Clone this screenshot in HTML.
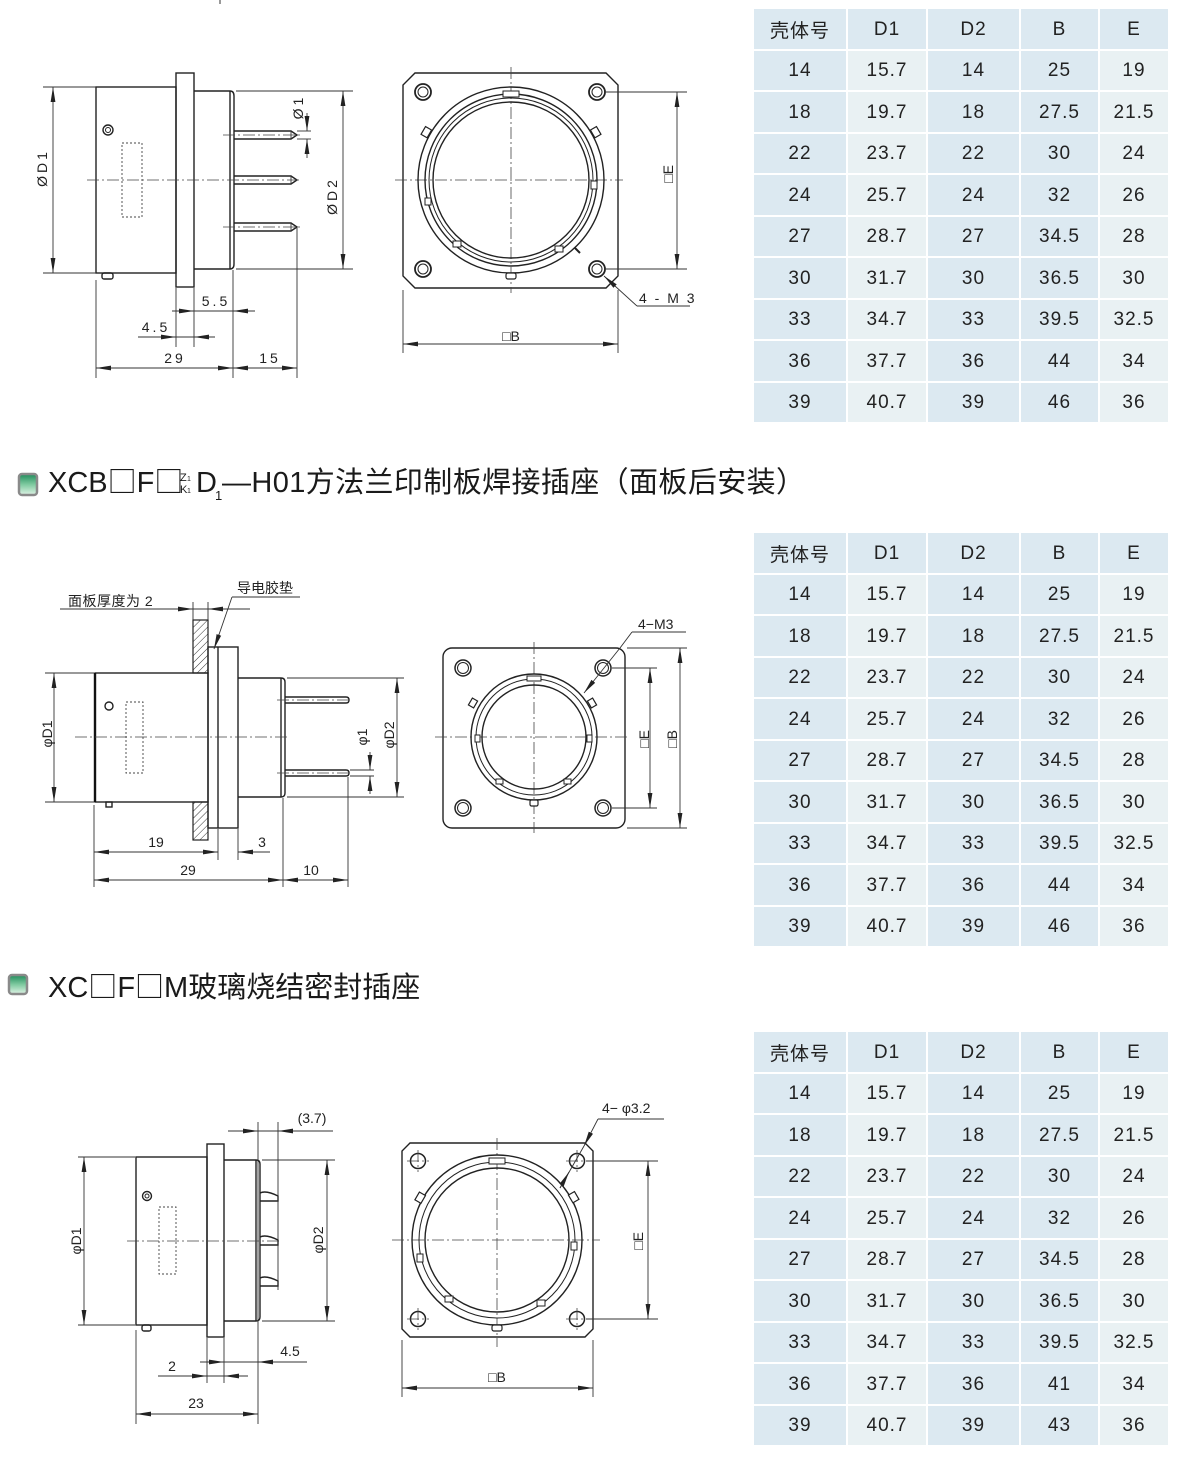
<!DOCTYPE html>
<html><head><meta charset="utf-8"><style>
html,body{margin:0;padding:0;background:#fff;}
body{width:1200px;height:1472px;position:relative;overflow:hidden;}
.tb{position:absolute;left:754px;display:grid;grid-template-columns:92px 78px 91px 77px 68px;grid-auto-rows:39.5px;gap:2px;font:19px "Liberation Sans","Noto Sans CJK SC",sans-serif;color:#222;letter-spacing:1px;}
.tb div{display:flex;align-items:center;justify-content:center;background:#dce9f1;padding-top:2px;box-sizing:border-box;}
.tb div.l{background:#e9f1f3;}
svg{position:absolute;left:0;top:0;}
.t{font-family:"Liberation Sans","Noto Sans CJK SC",sans-serif;font-size:14px;fill:#222;}
.s{fill:none;stroke:#222;stroke-width:1.4;}
.d{fill:none;stroke:#333;stroke-width:0.9;}
.c{fill:none;stroke:#444;stroke-width:0.8;stroke-dasharray:12 3 2 3;}
.dot{fill:none;stroke:#444;stroke-width:0.9;stroke-dasharray:2 2;}
.h{font-family:"Liberation Sans","Noto Sans CJK SC",sans-serif;fill:#1a1a1a;}
.cj{font-family:"Noto Sans CJK SC",sans-serif;}
</style></head><body>

<svg width="1200" height="1472" viewBox="0 0 1200 1472" xmlns="http://www.w3.org/2000/svg">
<defs>
<marker id="a" viewBox="-15 -3 15 6" refX="0" refY="0" markerWidth="15" markerHeight="6" markerUnits="userSpaceOnUse" orient="auto-start-reverse"><path d="M0,0L-15,-2.4L-15,2.4Z" fill="#222"/></marker>
<pattern id="hp" patternUnits="userSpaceOnUse" width="5" height="5" patternTransform="rotate(45)"><line x1="0" y1="0" x2="0" y2="5" stroke="#333" stroke-width="1"/></pattern>
<linearGradient id="ig" x1="0" y1="0" x2="0" y2="1"><stop offset="0" stop-color="#1f8a5a"/><stop offset="0.5" stop-color="#7fcaa0"/><stop offset="1" stop-color="#dff3e6"/></linearGradient>
</defs>

<line x1="220" y1="0" x2="220" y2="4" stroke="#333" stroke-width="1"/>

<!-- ============ DRAWING 1 SIDE ============ -->
<rect class="s" x="96" y="87" width="80" height="186"/>
<rect class="s" x="176" y="73" width="18" height="214"/>
<path class="s" d="M194,91 H230 Q234,91 234,96 V264 Q234,269 230,269 H194"/>
<line class="s" x1="230" y1="91" x2="230" y2="269"/>
<path class="s" d="M234,131 H291 L297,135 L291,139 H234"/><line class="d" x1="291" y1="131" x2="291" y2="139"/>
<path class="s" d="M234,176 H291 L297,180 L291,184 H234"/><line class="d" x1="291" y1="176" x2="291" y2="184"/>
<path class="s" d="M234,223 H291 L297,227 L291,231 H234"/><line class="d" x1="291" y1="223" x2="291" y2="231"/>
<circle class="s" cx="108" cy="130" r="5"/><circle cx="108" cy="130" r="2.5" fill="none" stroke="#222" stroke-width="1"/>
<rect class="dot" x="122" y="143" width="20" height="74"/>
<rect class="s" x="102" y="273" width="11" height="6" rx="2"/>
<line class="c" x1="87" y1="180" x2="300" y2="180"/>
<line class="c" x1="223" y1="135" x2="302" y2="135"/>
<line class="c" x1="223" y1="227" x2="302" y2="227"/>
<!-- dims -->
<line class="d" x1="43" y1="87" x2="96" y2="87"/><line class="d" x1="43" y1="273" x2="96" y2="273"/>
<line class="d" x1="53" y1="87" x2="53" y2="273" marker-start="url(#a)" marker-end="url(#a)"/>
<text class="t" font-size="15" letter-spacing="3" text-anchor="middle" dominant-baseline="central" transform="translate(42,168) rotate(-90)">ØD1</text>
<line class="d" x1="236" y1="91" x2="353" y2="91"/><line class="d" x1="236" y1="269" x2="353" y2="269"/>
<line class="d" x1="343" y1="91" x2="343" y2="269" marker-start="url(#a)" marker-end="url(#a)"/>
<text class="t" font-size="15" letter-spacing="3" text-anchor="middle" dominant-baseline="central" transform="translate(332,196) rotate(-90)">ØD2</text>
<line class="d" x1="297" y1="131" x2="311" y2="131"/><line class="d" x1="297" y1="139" x2="311" y2="139"/>
<line class="d" x1="307" y1="113" x2="307" y2="131" marker-end="url(#a)"/>
<line class="d" x1="307" y1="158" x2="307" y2="139" marker-end="url(#a)"/>
<text class="t" font-size="15" letter-spacing="3" text-anchor="middle" dominant-baseline="central" transform="translate(298,107) rotate(-90)">Ø1</text>
<line class="d" x1="96" y1="280" x2="96" y2="378"/>
<line class="d" x1="176" y1="288" x2="176" y2="347"/>
<line class="d" x1="194" y1="288" x2="194" y2="347"/>
<line class="d" x1="233" y1="270" x2="233" y2="378"/>
<line class="d" x1="297" y1="228" x2="297" y2="378"/>
<line class="d" x1="172" y1="311" x2="255" y2="311"/>
<line class="d" x1="178" y1="311" x2="194" y2="311" marker-end="url(#a)"/>
<line class="d" x1="249" y1="311" x2="233" y2="311" marker-end="url(#a)"/>
<text class="t" letter-spacing="3" x="216" y="306" text-anchor="middle">5.5</text>
<line class="d" x1="138" y1="337" x2="215" y2="337"/>
<line class="d" x1="160" y1="337" x2="176" y2="337" marker-end="url(#a)"/>
<line class="d" x1="210" y1="337" x2="194" y2="337" marker-end="url(#a)"/>
<text class="t" letter-spacing="3" x="156" y="332" text-anchor="middle">4.5</text>
<line class="d" x1="96" y1="368" x2="233" y2="368" marker-start="url(#a)" marker-end="url(#a)"/>
<line class="d" x1="233" y1="368" x2="297" y2="368" marker-start="url(#a)" marker-end="url(#a)"/>
<text class="t" letter-spacing="3" x="175" y="363" text-anchor="middle">29</text>
<text class="t" letter-spacing="3" x="270" y="363" text-anchor="middle">15</text>

<!-- ============ DRAWING 1 FRONT ============ -->
<path class="s" d="M415,73 H606 L618,85 V276 L606,288 H415 L403,276 V85 Z"/>
<line class="c" x1="395" y1="180" x2="623" y2="180"/>
<line class="c" x1="511" y1="67" x2="511" y2="293"/>
<g transform="translate(511,180)">
<circle class="s" r="93"/><circle class="s" r="86"/><circle fill="none" stroke="#222" stroke-width="1" r="82"/><circle class="s" r="78"/>
<rect x="-8" y="-89" width="16" height="6" fill="#fff" stroke="#222" stroke-width="1"/>
<rect x="80" y="1" width="6" height="8" fill="#fff" stroke="#222" stroke-width="1"/>
<rect x="-86" y="18" width="6" height="7" fill="#fff" stroke="#222" stroke-width="1"/>
<rect x="-58" y="61" width="8" height="6" fill="#fff" stroke="#222" stroke-width="1"/>
<rect x="44" y="66" width="8" height="6" fill="#fff" stroke="#222" stroke-width="1"/>
<rect x="-5" y="93" width="10" height="6" rx="2" fill="#fff" stroke="#222" stroke-width="1.2"/>
<rect x="-4" y="-4" width="7" height="9" fill="#fff" stroke="#222" stroke-width="1.2" transform="translate(-84,-48) rotate(30)"/>
<rect x="-3" y="-4" width="7" height="9" fill="#fff" stroke="#222" stroke-width="1.2" transform="translate(84,-48) rotate(-30)"/>
</g>
<g fill="none" stroke="#222">
<circle cx="423" cy="92" r="8" stroke-width="1.8"/><circle cx="423" cy="92" r="5" stroke-width="1"/>
<circle cx="597" cy="92" r="8" stroke-width="1.8"/><circle cx="597" cy="92" r="5" stroke-width="1"/>
<circle cx="423" cy="269" r="8" stroke-width="1.8"/><circle cx="423" cy="269" r="5" stroke-width="1"/>
<circle cx="597" cy="269" r="8" stroke-width="1.8"/><circle cx="597" cy="269" r="5" stroke-width="1"/>
</g>
<line class="d" x1="605" y1="92" x2="687" y2="92"/><line class="d" x1="605" y1="269" x2="687" y2="269"/>
<line class="d" x1="677" y1="92" x2="677" y2="269" marker-start="url(#a)" marker-end="url(#a)"/>
<text class="t" font-size="15" text-anchor="middle" dominant-baseline="central" transform="translate(668,174) rotate(-90)">□E</text>
<line class="d" x1="403" y1="290" x2="403" y2="353"/><line class="d" x1="618" y1="290" x2="618" y2="353"/>
<line class="d" x1="403" y1="344" x2="618" y2="344" marker-start="url(#a)" marker-end="url(#a)"/>
<text class="t" font-size="15" x="511" y="341" text-anchor="middle">□B</text>
<line x1="575" y1="248" x2="580" y2="253" stroke="#222" stroke-width="2"/>
<line class="d" x1="637" y1="306" x2="604" y2="276" marker-end="url(#a)"/>
<line class="d" x1="637" y1="306" x2="690" y2="306"/>
<text class="t" letter-spacing="2" x="639" y="303">4 - M 3</text>

<!-- ============ HEADING 1 ============ -->
<rect x="19" y="474" width="18" height="21" rx="3" fill="url(#ig)" stroke="#8a8a8a" stroke-width="2.5"/>
<text class="h" font-size="29" x="48" y="492">XCB<tspan class="cj">□</tspan>F<tspan class="cj">□</tspan></text>
<text class="h" font-size="11" x="180" y="481">Z</text><text class="h" font-size="7" x="187" y="481">1</text>
<text class="h" font-size="11" x="180" y="493">K</text><text class="h" font-size="7" x="187" y="493">1</text>
<text class="h" font-size="29" x="196" y="492">D</text>
<text class="h" font-size="13" x="215" y="500">1</text>
<text class="h" font-size="29" x="222" y="492" textLength="583" lengthAdjust="spacing">—H01方法兰印制板焊接插座（面板后安装）</text>

<!-- ============ DRAWING 2 SIDE ============ -->
<rect x="193" y="620" width="15" height="53" fill="url(#hp)" stroke="#222" stroke-width="1.2"/>
<rect x="193" y="802" width="15" height="38" fill="url(#hp)" stroke="#222" stroke-width="1.2"/>
<rect class="s" x="95" y="673" width="113" height="129"/>
<line x1="95" y1="673" x2="95" y2="802" stroke="#111" stroke-width="2.4"/>
<rect class="s" x="208" y="647" width="30" height="181"/>
<line class="s" x1="218" y1="647" x2="218" y2="828"/>
<path class="s" d="M238,678 H281 Q285,678 285,682 V793 Q285,797 281,797 H238"/>
<line class="s" x1="281" y1="678" x2="281" y2="797"/>
<path class="s" d="M285,697 H346 Q349,697 349,700 Q349,703 346,703 H285"/>
<path class="s" d="M285,770 H346 Q349,770 349,773 Q349,776 346,776 H285"/>
<circle class="s" cx="109" cy="706" r="4"/>
<rect class="dot" x="126" y="702" width="17" height="71"/>
<rect class="s" x="106" y="802" width="6" height="5"/>
<line class="c" x1="75" y1="737" x2="290" y2="737"/>
<line class="c" x1="277" y1="700" x2="352" y2="700"/>
<line class="c" x1="277" y1="773" x2="352" y2="773"/>
<line class="d" x1="45" y1="673" x2="94" y2="673"/><line class="d" x1="45" y1="802" x2="94" y2="802"/>
<line class="d" x1="54" y1="673" x2="54" y2="802" marker-start="url(#a)" marker-end="url(#a)"/>
<text class="t" font-size="15" text-anchor="middle" dominant-baseline="central" transform="translate(47,734) rotate(-90)">φD1</text>
<line class="d" x1="287" y1="678" x2="404" y2="678"/><line class="d" x1="287" y1="797" x2="404" y2="797"/>
<line class="d" x1="397" y1="678" x2="397" y2="797" marker-start="url(#a)" marker-end="url(#a)"/>
<text class="t" font-size="15" text-anchor="middle" dominant-baseline="central" transform="translate(389,735) rotate(-90)">φD2</text>
<line class="d" x1="350" y1="770" x2="374" y2="770"/><line class="d" x1="350" y1="776" x2="374" y2="776"/>
<line class="d" x1="370" y1="752" x2="370" y2="770" marker-end="url(#a)"/>
<line class="d" x1="370" y1="794" x2="370" y2="776" marker-end="url(#a)"/>
<text class="t" font-size="15" text-anchor="middle" dominant-baseline="central" transform="translate(362,737) rotate(-90)">φ1</text>
<text class="t" font-size="13" x="68" y="606" letter-spacing="0.5">面板厚度为 2</text>
<line class="d" x1="60" y1="609" x2="250" y2="609"/>
<line class="d" x1="175" y1="609" x2="193" y2="609" marker-end="url(#a)"/>
<line class="d" x1="226" y1="609" x2="208" y2="609" marker-end="url(#a)"/>
<line class="d" x1="193" y1="602" x2="193" y2="620"/><line class="d" x1="208" y1="602" x2="208" y2="620"/>
<text class="t" font-size="13" x="237" y="593">导电胶垫</text>
<line class="d" x1="232" y1="597" x2="300" y2="597"/>
<line class="d" x1="232" y1="597" x2="214" y2="649" marker-end="url(#a)"/>
<line class="d" x1="94" y1="805" x2="94" y2="887"/>
<line class="d" x1="218" y1="829" x2="218" y2="860"/>
<line class="d" x1="238" y1="829" x2="238" y2="860"/>
<line class="d" x1="283" y1="798" x2="283" y2="887"/>
<line class="d" x1="348" y1="777" x2="348" y2="887"/>
<line class="d" x1="94" y1="852" x2="218" y2="852" marker-start="url(#a)" marker-end="url(#a)"/>
<line class="d" x1="270" y1="852" x2="238" y2="852" marker-end="url(#a)"/>
<text class="t" x="156" y="847" text-anchor="middle">19</text>
<text class="t" x="262" y="847" text-anchor="middle">3</text>
<line class="d" x1="94" y1="880" x2="283" y2="880" marker-start="url(#a)" marker-end="url(#a)"/>
<line class="d" x1="283" y1="880" x2="348" y2="880" marker-start="url(#a)" marker-end="url(#a)"/>
<text class="t" x="188" y="875" text-anchor="middle">29</text>
<text class="t" x="311" y="875" text-anchor="middle">10</text>

<!-- ============ DRAWING 2 FRONT ============ -->
<rect class="s" x="443" y="648" width="182" height="180" rx="9"/>
<line class="c" x1="435" y1="737" x2="630" y2="737"/>
<line class="c" x1="534" y1="642" x2="534" y2="833"/>
<g transform="translate(534,737)">
<circle class="s" r="63"/><circle fill="none" stroke="#222" stroke-width="1" r="58"/><circle class="s" r="52"/>
<rect x="-7" y="-61" width="14" height="5" fill="#fff" stroke="#222" stroke-width="1"/>
<rect x="53" y="-2" width="5" height="7" fill="#fff" stroke="#222" stroke-width="1"/>
<rect x="-59" y="-2" width="5" height="7" fill="#fff" stroke="#222" stroke-width="1"/>
<rect x="-38" y="42" width="7" height="5" fill="#fff" stroke="#222" stroke-width="1"/>
<rect x="30" y="42" width="7" height="5" fill="#fff" stroke="#222" stroke-width="1"/>
<rect x="-4" y="63" width="8" height="6" rx="1.5" fill="#fff" stroke="#222" stroke-width="1.2"/>
<rect x="-3" y="-4" width="6" height="8" fill="#fff" stroke="#222" stroke-width="1.2" transform="translate(-61,-34) rotate(30)"/>
<rect x="-3" y="-4" width="6" height="8" fill="#fff" stroke="#222" stroke-width="1.2" transform="translate(58,-34) rotate(-30)"/>
</g>
<g fill="none" stroke="#222">
<circle cx="463" cy="668" r="8" stroke-width="1.5"/><circle cx="463" cy="668" r="5.5" stroke-width="1"/>
<circle cx="603" cy="668" r="8" stroke-width="1.5"/><circle cx="603" cy="668" r="5.5" stroke-width="1"/>
<circle cx="463" cy="808" r="8" stroke-width="1.5"/><circle cx="463" cy="808" r="5.5" stroke-width="1"/>
<circle cx="603" cy="808" r="8" stroke-width="1.5"/><circle cx="603" cy="808" r="5.5" stroke-width="1"/>
</g>
<line class="d" x1="612" y1="668" x2="657" y2="668"/><line class="d" x1="612" y1="808" x2="657" y2="808"/>
<line class="d" x1="650" y1="668" x2="650" y2="808" marker-start="url(#a)" marker-end="url(#a)"/>
<text class="t" font-size="15" text-anchor="middle" dominant-baseline="central" transform="translate(644,739) rotate(-90)">□E</text>
<line class="d" x1="627" y1="648" x2="687" y2="648"/><line class="d" x1="627" y1="828" x2="687" y2="828"/>
<line class="d" x1="680" y1="648" x2="680" y2="828" marker-start="url(#a)" marker-end="url(#a)"/>
<text class="t" font-size="15" text-anchor="middle" dominant-baseline="central" transform="translate(672,739) rotate(-90)">□B</text>
<line class="d" x1="632" y1="632" x2="620" y2="648"/>
<line class="d" x1="620" y1="648" x2="584" y2="693" marker-end="url(#a)"/>
<line class="d" x1="632" y1="632" x2="686" y2="632"/>
<text class="t" x="638" y="629">4−M3</text>

<!-- ============ HEADING 2 ============ -->
<rect x="9" y="975" width="18" height="19" rx="3" fill="url(#ig)" stroke="#8a8a8a" stroke-width="2.5"/>
<text class="h" font-size="29" x="48" y="997">XC<tspan class="cj">□</tspan>F<tspan class="cj">□</tspan>M玻璃烧结密封插座</text>

<!-- ============ DRAWING 3 SIDE ============ -->
<rect class="s" x="136" y="1157" width="71" height="168"/>
<rect class="s" x="207" y="1144" width="17" height="193"/>
<path class="s" d="M224,1160 H256 Q260,1160 260,1164 V1317 Q260,1321 256,1321 H224"/>
<line class="s" x1="256" y1="1160" x2="256" y2="1321"/>
<path class="s" d="M260,1193 Q266,1190 278,1196 L278,1201 L260,1201"/>
<path class="s" d="M260,1237 Q266,1234 278,1240 L278,1245 L260,1245"/>
<path class="s" d="M260,1278 Q266,1275 278,1281 L278,1286 L260,1286"/>
<circle class="s" cx="147" cy="1196" r="4.5"/><circle cx="147" cy="1196" r="2" fill="none" stroke="#222" stroke-width="1"/>
<rect class="dot" x="159" y="1207" width="17" height="67"/>
<rect class="s" x="142" y="1325" width="9" height="6" rx="2"/>
<line class="c" x1="127" y1="1241" x2="280" y2="1241"/>
<line class="d" x1="78" y1="1157" x2="135" y2="1157"/><line class="d" x1="78" y1="1325" x2="135" y2="1325"/>
<line class="d" x1="84" y1="1157" x2="84" y2="1325" marker-start="url(#a)" marker-end="url(#a)"/>
<text class="t" font-size="15" text-anchor="middle" dominant-baseline="central" transform="translate(76,1241) rotate(-90)">φD1</text>
<line class="d" x1="262" y1="1160" x2="335" y2="1160"/><line class="d" x1="262" y1="1321" x2="335" y2="1321"/>
<line class="d" x1="327" y1="1160" x2="327" y2="1321" marker-start="url(#a)" marker-end="url(#a)"/>
<text class="t" font-size="15" text-anchor="middle" dominant-baseline="central" transform="translate(318,1240) rotate(-90)">φD2</text>
<line class="d" x1="228" y1="1131" x2="333" y2="1131"/>
<line class="d" x1="242" y1="1131" x2="258" y2="1131" marker-end="url(#a)"/>
<line class="d" x1="294" y1="1131" x2="278" y2="1131" marker-end="url(#a)"/>
<line class="d" x1="258" y1="1122" x2="258" y2="1424"/>
<line class="d" x1="278" y1="1122" x2="278" y2="1290"/>
<text class="t" x="312" y="1123" text-anchor="middle">(3.7)</text>
<line class="d" x1="136" y1="1330" x2="136" y2="1424"/>
<line class="d" x1="207" y1="1338" x2="207" y2="1383"/>
<line class="d" x1="224" y1="1338" x2="224" y2="1383"/>
<line class="d" x1="200" y1="1362" x2="307" y2="1362"/>
<line class="d" x1="208" y1="1362" x2="224" y2="1362" marker-end="url(#a)"/>
<line class="d" x1="274" y1="1362" x2="258" y2="1362" marker-end="url(#a)"/>
<text class="t" x="290" y="1356" text-anchor="middle">4.5</text>
<line class="d" x1="158" y1="1376" x2="248" y2="1376"/>
<line class="d" x1="191" y1="1376" x2="207" y2="1376" marker-end="url(#a)"/>
<line class="d" x1="240" y1="1376" x2="224" y2="1376" marker-end="url(#a)"/>
<text class="t" x="172" y="1371" text-anchor="middle">2</text>
<line class="d" x1="136" y1="1414" x2="258" y2="1414" marker-start="url(#a)" marker-end="url(#a)"/>
<text class="t" x="196" y="1408" text-anchor="middle">23</text>

<!-- ============ DRAWING 3 FRONT ============ -->
<path class="s" d="M410,1143 H585 L593,1151 V1329 L585,1337 H410 L402,1329 V1151 Z"/>
<line class="c" x1="392" y1="1240" x2="600" y2="1240"/>
<line class="c" x1="497" y1="1138" x2="497" y2="1347"/>
<g transform="translate(497,1240)">
<circle class="s" r="85"/><circle fill="none" stroke="#222" stroke-width="1" r="78"/><circle class="s" r="72"/>
<rect x="-8" y="-82" width="16" height="6" fill="#fff" stroke="#222" stroke-width="1"/>
<rect x="74" y="2" width="6" height="8" fill="#fff" stroke="#222" stroke-width="1"/>
<rect x="-80" y="14" width="6" height="8" fill="#fff" stroke="#222" stroke-width="1"/>
<rect x="-52" y="56" width="8" height="6" fill="#fff" stroke="#222" stroke-width="1"/>
<rect x="40" y="60" width="8" height="6" fill="#fff" stroke="#222" stroke-width="1"/>
<rect x="-5" y="85" width="10" height="6" rx="2" fill="#fff" stroke="#222" stroke-width="1.2"/>
<rect x="-3" y="-4" width="7" height="9" fill="#fff" stroke="#222" stroke-width="1.2" transform="translate(-77,-43) rotate(30)"/>
<rect x="-3" y="-4" width="7" height="9" fill="#fff" stroke="#222" stroke-width="1.2" transform="translate(76,-43) rotate(-30)"/>
</g>
<g fill="none" stroke="#222" stroke-width="1.5">
<circle cx="418" cy="1161" r="7.5"/><circle cx="577" cy="1161" r="7.5"/>
<circle cx="418" cy="1319" r="7.5"/><circle cx="577" cy="1319" r="7.5"/>
</g>
<g class="c" stroke-dasharray="4 2 1 2">
<line x1="407" y1="1161" x2="429" y2="1161"/><line x1="418" y1="1150" x2="418" y2="1172"/>
<line x1="566" y1="1161" x2="588" y2="1161"/><line x1="577" y1="1150" x2="577" y2="1172"/>
<line x1="407" y1="1319" x2="429" y2="1319"/><line x1="418" y1="1308" x2="418" y2="1330"/>
<line x1="566" y1="1319" x2="588" y2="1319"/><line x1="577" y1="1308" x2="577" y2="1330"/>
</g>
<line class="d" x1="586" y1="1161" x2="658" y2="1161"/><line class="d" x1="586" y1="1319" x2="658" y2="1319"/>
<line class="d" x1="648" y1="1161" x2="648" y2="1319" marker-start="url(#a)" marker-end="url(#a)"/>
<text class="t" font-size="15" text-anchor="middle" dominant-baseline="central" transform="translate(638,1241) rotate(-90)">□E</text>
<line class="d" x1="402" y1="1340" x2="402" y2="1397"/><line class="d" x1="593" y1="1340" x2="593" y2="1397"/>
<line class="d" x1="402" y1="1388" x2="593" y2="1388" marker-start="url(#a)" marker-end="url(#a)"/>
<text class="t" font-size="15" x="497" y="1382" text-anchor="middle">□B</text>
<line class="d" x1="598" y1="1119" x2="664" y2="1119"/>
<line class="d" x1="598" y1="1119" x2="584" y2="1146" marker-end="url(#a)"/>
<line class="d" x1="584" y1="1146" x2="560" y2="1188"/>
<line class="d" x1="560" y1="1188" x2="569" y2="1172" marker-end="url(#a)"/>
<text class="t" x="602" y="1113">4−  φ3.2</text>
</svg>

<!-- ============ TABLE 1 ============ -->
<div class="tb" style="top:9px">
<div>壳体号</div><div>D1</div><div>D2</div><div>B</div><div>E</div>
<div>14</div><div class="l">15.7</div><div>14</div><div>25</div><div class="l">19</div>
<div>18</div><div class="l">19.7</div><div>18</div><div>27.5</div><div class="l">21.5</div>
<div>22</div><div class="l">23.7</div><div>22</div><div>30</div><div class="l">24</div>
<div>24</div><div class="l">25.7</div><div>24</div><div>32</div><div class="l">26</div>
<div>27</div><div class="l">28.7</div><div>27</div><div>34.5</div><div class="l">28</div>
<div>30</div><div class="l">31.7</div><div>30</div><div>36.5</div><div class="l">30</div>
<div>33</div><div class="l">34.7</div><div>33</div><div>39.5</div><div class="l">32.5</div>
<div>36</div><div class="l">37.7</div><div>36</div><div>44</div><div class="l">34</div>
<div>39</div><div class="l">40.7</div><div>39</div><div>46</div><div class="l">36</div>
</div>

<!-- ============ TABLE 2 ============ -->
<div class="tb" style="top:533px">
<div>壳体号</div><div>D1</div><div>D2</div><div>B</div><div>E</div>
<div>14</div><div class="l">15.7</div><div>14</div><div>25</div><div class="l">19</div>
<div>18</div><div class="l">19.7</div><div>18</div><div>27.5</div><div class="l">21.5</div>
<div>22</div><div class="l">23.7</div><div>22</div><div>30</div><div class="l">24</div>
<div>24</div><div class="l">25.7</div><div>24</div><div>32</div><div class="l">26</div>
<div>27</div><div class="l">28.7</div><div>27</div><div>34.5</div><div class="l">28</div>
<div>30</div><div class="l">31.7</div><div>30</div><div>36.5</div><div class="l">30</div>
<div>33</div><div class="l">34.7</div><div>33</div><div>39.5</div><div class="l">32.5</div>
<div>36</div><div class="l">37.7</div><div>36</div><div>44</div><div class="l">34</div>
<div>39</div><div class="l">40.7</div><div>39</div><div>46</div><div class="l">36</div>
</div>

<!-- ============ TABLE 3 ============ -->
<div class="tb" style="top:1032px">
<div>壳体号</div><div>D1</div><div>D2</div><div>B</div><div>E</div>
<div>14</div><div class="l">15.7</div><div>14</div><div>25</div><div class="l">19</div>
<div>18</div><div class="l">19.7</div><div>18</div><div>27.5</div><div class="l">21.5</div>
<div>22</div><div class="l">23.7</div><div>22</div><div>30</div><div class="l">24</div>
<div>24</div><div class="l">25.7</div><div>24</div><div>32</div><div class="l">26</div>
<div>27</div><div class="l">28.7</div><div>27</div><div>34.5</div><div class="l">28</div>
<div>30</div><div class="l">31.7</div><div>30</div><div>36.5</div><div class="l">30</div>
<div>33</div><div class="l">34.7</div><div>33</div><div>39.5</div><div class="l">32.5</div>
<div>36</div><div class="l">37.7</div><div>36</div><div>41</div><div class="l">34</div>
<div>39</div><div class="l">40.7</div><div>39</div><div>43</div><div class="l">36</div>
</div>

</body></html>
